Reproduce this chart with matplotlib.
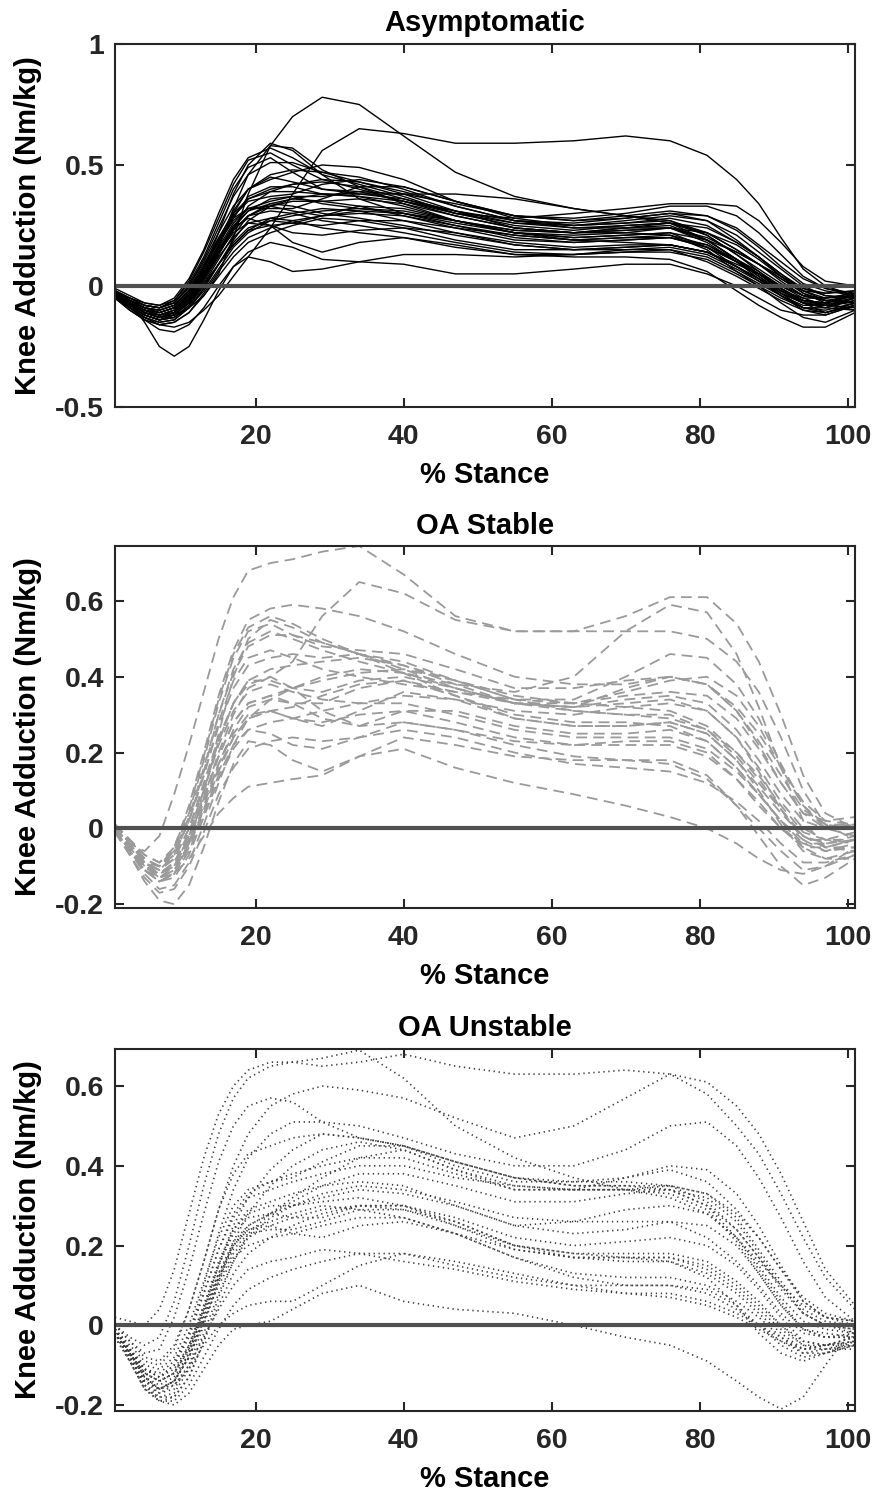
import numpy as np
import matplotlib
matplotlib.use("Agg")
import matplotlib.pyplot as plt

plt.rcParams['font.family'] = ['Liberation Sans', 'DejaVu Sans']
plt.rcParams['font.weight'] = 'bold'

# % stance sample points shared by every curve
stance = [1, 3, 5, 7, 9, 11, 13, 15, 17, 19, 22, 25, 29, 34, 40, 47, 55, 63, 70, 76, 81, 85, 88, 91, 94, 97, 101]

# Asymptomatic knee adduction moments (Nm/kg)
asym_curves = [
    [-0.03, -0.07, -0.10, -0.12, -0.11, -0.05, 0.05, 0.17, 0.30, 0.40, 0.45, 0.43, 0.40, 0.39, 0.35, 0.30, 0.26, 0.25, 0.26, 0.27, 0.22, 0.15, 0.09, 0.02, -0.04, -0.06, -0.04],
    [-0.02, -0.05, -0.08, -0.09, -0.06, 0.02, 0.14, 0.28, 0.42, 0.52, 0.55, 0.50, 0.44, 0.40, 0.35, 0.29, 0.24, 0.22, 0.24, 0.25, 0.19, 0.11, 0.05, -0.02, -0.07, -0.09, -0.06],
    [-0.04, -0.08, -0.11, -0.13, -0.12, -0.07, 0.03, 0.16, 0.32, 0.46, 0.58, 0.57, 0.48, 0.41, 0.34, 0.27, 0.22, 0.20, 0.21, 0.22, 0.16, 0.08, 0.02, -0.04, -0.09, -0.10, -0.07],
    [-0.03, -0.07, -0.10, -0.12, -0.10, -0.04, 0.07, 0.22, 0.38, 0.50, 0.59, 0.56, 0.46, 0.36, 0.30, 0.25, 0.21, 0.19, 0.20, 0.21, 0.17, 0.10, 0.04, -0.02, -0.06, -0.08, -0.05],
    [-0.05, -0.09, -0.13, -0.15, -0.14, -0.09, -0.01, 0.09, 0.19, 0.27, 0.33, 0.35, 0.35, 0.36, 0.34, 0.29, 0.24, 0.22, 0.23, 0.24, 0.20, 0.14, 0.09, 0.03, -0.03, -0.06, -0.07],
    [-0.02, -0.06, -0.09, -0.11, -0.09, -0.03, 0.07, 0.18, 0.27, 0.32, 0.33, 0.31, 0.29, 0.30, 0.29, 0.25, 0.20, 0.18, 0.19, 0.20, 0.16, 0.10, 0.05, -0.01, -0.06, -0.07, -0.03],
    [-0.03, -0.07, -0.10, -0.11, -0.09, -0.03, 0.06, 0.17, 0.28, 0.37, 0.41, 0.41, 0.38, 0.37, 0.35, 0.31, 0.27, 0.25, 0.26, 0.28, 0.25, 0.18, 0.12, 0.05, -0.01, -0.03, -0.02],
    [-0.04, -0.08, -0.12, -0.14, -0.13, -0.08, 0.00, 0.09, 0.18, 0.24, 0.27, 0.26, 0.25, 0.27, 0.27, 0.24, 0.21, 0.19, 0.20, 0.20, 0.16, 0.10, 0.05, -0.01, -0.06, -0.07, -0.04],
    [-0.03, -0.06, -0.09, -0.10, -0.08, -0.02, 0.08, 0.19, 0.29, 0.35, 0.37, 0.38, 0.42, 0.44, 0.41, 0.35, 0.29, 0.27, 0.28, 0.30, 0.27, 0.19, 0.12, 0.04, -0.02, -0.05, -0.03],
    [-0.02, -0.05, -0.08, -0.09, -0.07, 0.00, 0.10, 0.22, 0.33, 0.40, 0.44, 0.47, 0.50, 0.49, 0.44, 0.35, 0.28, 0.25, 0.27, 0.29, 0.27, 0.21, 0.14, 0.07, 0.00, -0.04, -0.05],
    [-0.03, -0.07, -0.11, -0.13, -0.12, -0.07, 0.01, 0.09, 0.17, 0.23, 0.28, 0.30, 0.32, 0.31, 0.27, 0.22, 0.17, 0.15, 0.15, 0.16, 0.13, 0.07, 0.02, -0.03, -0.07, -0.08, -0.06],
    [-0.05, -0.10, -0.14, -0.16, -0.15, -0.11, -0.03, 0.06, 0.14, 0.20, 0.24, 0.27, 0.29, 0.31, 0.30, 0.27, 0.22, 0.19, 0.18, 0.17, 0.14, 0.09, 0.05, 0.00, -0.04, -0.06, -0.07],
    [-0.03, -0.07, -0.10, -0.12, -0.10, -0.04, 0.05, 0.15, 0.25, 0.31, 0.34, 0.33, 0.30, 0.28, 0.25, 0.21, 0.17, 0.15, 0.16, 0.17, 0.14, 0.08, 0.03, -0.03, -0.07, -0.07, -0.05],
    [-0.02, -0.06, -0.09, -0.11, -0.09, -0.03, 0.06, 0.16, 0.26, 0.32, 0.35, 0.37, 0.37, 0.39, 0.38, 0.34, 0.29, 0.27, 0.29, 0.31, 0.29, 0.23, 0.16, 0.08, 0.01, -0.02, -0.04],
    [-0.04, -0.08, -0.12, -0.14, -0.12, -0.06, 0.03, 0.13, 0.23, 0.29, 0.31, 0.30, 0.27, 0.25, 0.22, 0.18, 0.14, 0.13, 0.14, 0.14, 0.11, 0.05, 0.00, -0.05, -0.09, -0.09, -0.05],
    [-0.03, -0.07, -0.11, -0.13, -0.11, -0.05, 0.04, 0.14, 0.22, 0.26, 0.25, 0.22, 0.21, 0.23, 0.24, 0.22, 0.18, 0.16, 0.17, 0.17, 0.14, 0.08, 0.03, -0.02, -0.05, -0.05, -0.03],
    [-0.04, -0.09, -0.14, -0.18, -0.19, -0.16, -0.09, 0.00, 0.08, 0.14, 0.18, 0.16, 0.11, 0.10, 0.13, 0.13, 0.12, 0.13, 0.15, 0.15, 0.10, 0.04, -0.01, -0.06, -0.10, -0.11, -0.08],
    [-0.03, -0.07, -0.11, -0.13, -0.12, -0.09, -0.04, 0.05, 0.20, 0.38, 0.58, 0.70, 0.78, 0.75, 0.62, 0.47, 0.37, 0.32, 0.29, 0.26, 0.19, 0.11, 0.05, -0.01, -0.07, -0.11, -0.08],
    [-0.05, -0.09, -0.13, -0.16, -0.17, -0.15, -0.10, -0.04, 0.04, 0.12, 0.24, 0.38, 0.56, 0.65, 0.63, 0.59, 0.59, 0.60, 0.62, 0.60, 0.54, 0.44, 0.34, 0.20, 0.07, 0.00, -0.04],
    [-0.02, -0.07, -0.15, -0.25, -0.29, -0.25, -0.14, -0.02, 0.08, 0.12, 0.10, 0.06, 0.07, 0.10, 0.09, 0.05, 0.05, 0.07, 0.09, 0.09, 0.05, 0.00, -0.05, -0.10, -0.12, -0.12, -0.08],
    [-0.02, -0.05, -0.07, -0.08, -0.05, 0.03, 0.15, 0.30, 0.44, 0.53, 0.57, 0.53, 0.46, 0.42, 0.37, 0.30, 0.25, 0.23, 0.25, 0.26, 0.21, 0.13, 0.06, -0.01, -0.06, -0.07, -0.04],
    [-0.03, -0.07, -0.10, -0.11, -0.09, -0.03, 0.07, 0.19, 0.31, 0.40, 0.46, 0.48, 0.47, 0.45, 0.40, 0.33, 0.27, 0.26, 0.28, 0.30, 0.29, 0.24, 0.17, 0.10, 0.03, -0.01, -0.03],
    [-0.04, -0.09, -0.12, -0.14, -0.13, -0.08, 0.01, 0.11, 0.21, 0.29, 0.34, 0.36, 0.35, 0.33, 0.29, 0.24, 0.19, 0.18, 0.19, 0.20, 0.17, 0.11, 0.06, 0.00, -0.05, -0.08, -0.09],
    [-0.02, -0.06, -0.09, -0.10, -0.08, -0.02, 0.08, 0.19, 0.28, 0.32, 0.32, 0.32, 0.36, 0.41, 0.41, 0.35, 0.29, 0.28, 0.30, 0.33, 0.33, 0.29, 0.22, 0.13, 0.04, -0.01, -0.04],
    [-0.03, -0.07, -0.11, -0.12, -0.10, -0.04, 0.05, 0.15, 0.23, 0.29, 0.33, 0.36, 0.38, 0.37, 0.33, 0.27, 0.23, 0.22, 0.22, 0.21, 0.15, 0.06, 0.00, -0.07, -0.13, -0.15, -0.10],
    [-0.04, -0.08, -0.12, -0.14, -0.12, -0.07, 0.02, 0.12, 0.20, 0.26, 0.28, 0.27, 0.24, 0.22, 0.20, 0.16, 0.13, 0.12, 0.12, 0.11, 0.06, -0.02, -0.08, -0.13, -0.17, -0.17, -0.11],
    [-0.02, -0.06, -0.09, -0.10, -0.08, -0.02, 0.08, 0.19, 0.29, 0.36, 0.40, 0.42, 0.43, 0.41, 0.36, 0.30, 0.28, 0.30, 0.32, 0.34, 0.34, 0.33, 0.27, 0.18, 0.08, 0.02, 0.00],
    [-0.03, -0.06, -0.08, -0.09, -0.07, -0.01, 0.09, 0.20, 0.30, 0.36, 0.39, 0.39, 0.38, 0.38, 0.38, 0.38, 0.36, 0.32, 0.29, 0.27, 0.21, 0.13, 0.07, 0.01, -0.04, -0.05, -0.04],
    [-0.05, -0.10, -0.14, -0.16, -0.15, -0.11, -0.04, 0.04, 0.12, 0.18, 0.22, 0.25, 0.28, 0.27, 0.24, 0.19, 0.15, 0.15, 0.16, 0.17, 0.14, 0.08, 0.03, -0.02, -0.07, -0.09, -0.10],
    [-0.03, -0.07, -0.11, -0.13, -0.11, -0.05, 0.05, 0.15, 0.24, 0.28, 0.25, 0.18, 0.14, 0.18, 0.20, 0.17, 0.13, 0.13, 0.14, 0.15, 0.12, 0.06, 0.01, -0.04, -0.08, -0.08, -0.05],
    [-0.02, -0.05, -0.08, -0.09, -0.07, 0.00, 0.11, 0.24, 0.37, 0.46, 0.51, 0.51, 0.47, 0.43, 0.38, 0.31, 0.24, 0.22, 0.23, 0.24, 0.19, 0.11, 0.04, -0.03, -0.09, -0.11, -0.07],
    [-0.04, -0.09, -0.13, -0.15, -0.14, -0.09, -0.01, 0.09, 0.17, 0.23, 0.25, 0.26, 0.29, 0.33, 0.32, 0.27, 0.22, 0.21, 0.22, 0.24, 0.22, 0.17, 0.11, 0.04, -0.03, -0.07, -0.10],
    [-0.01, -0.04, -0.07, -0.08, -0.06, 0.01, 0.12, 0.26, 0.40, 0.49, 0.53, 0.47, 0.40, 0.38, 0.36, 0.31, 0.26, 0.24, 0.25, 0.26, 0.22, 0.15, 0.09, 0.03, -0.02, -0.03, -0.02],
    [-0.03, -0.08, -0.12, -0.14, -0.13, -0.09, -0.02, 0.07, 0.16, 0.22, 0.27, 0.29, 0.31, 0.32, 0.31, 0.27, 0.23, 0.22, 0.24, 0.26, 0.24, 0.18, 0.12, 0.05, -0.02, -0.06, -0.08],
    [-0.02, -0.06, -0.10, -0.12, -0.11, -0.06, 0.03, 0.13, 0.24, 0.33, 0.39, 0.42, 0.44, 0.43, 0.39, 0.33, 0.27, 0.24, 0.24, 0.24, 0.18, 0.10, 0.03, -0.04, -0.10, -0.12, -0.08],
    [-0.04, -0.08, -0.11, -0.13, -0.11, -0.05, 0.04, 0.14, 0.24, 0.31, 0.36, 0.37, 0.34, 0.32, 0.30, 0.26, 0.22, 0.20, 0.21, 0.22, 0.19, 0.14, 0.09, 0.04, -0.01, -0.04, -0.05],
]

# OA stable knee adduction moments (Nm/kg)
stable_curves = [
    [0.00, -0.04, -0.06, -0.02, 0.09, 0.22, 0.36, 0.50, 0.61, 0.68, 0.70, 0.71, 0.73, 0.745, 0.67, 0.56, 0.52, 0.52, 0.56, 0.61, 0.61, 0.54, 0.44, 0.30, 0.14, 0.04, 0.00],
    [0.01, -0.04, -0.09, -0.12, -0.10, -0.03, 0.08, 0.20, 0.30, 0.37, 0.40, 0.44, 0.56, 0.65, 0.62, 0.55, 0.52, 0.52, 0.52, 0.52, 0.50, 0.44, 0.36, 0.24, 0.10, 0.01, -0.03],
    [0.00, -0.05, -0.09, -0.10, -0.05, 0.06, 0.20, 0.35, 0.47, 0.55, 0.58, 0.59, 0.58, 0.56, 0.52, 0.46, 0.40, 0.38, 0.38, 0.40, 0.38, 0.32, 0.25, 0.16, 0.07, 0.02, 0.01],
    [0.01, -0.04, -0.09, -0.11, -0.07, 0.02, 0.15, 0.30, 0.42, 0.49, 0.52, 0.50, 0.47, 0.44, 0.41, 0.38, 0.36, 0.40, 0.52, 0.59, 0.57, 0.46, 0.32, 0.16, 0.02, -0.05, -0.03],
    [0.00, -0.06, -0.11, -0.14, -0.12, -0.04, 0.09, 0.25, 0.40, 0.50, 0.55, 0.53, 0.49, 0.46, 0.43, 0.39, 0.35, 0.33, 0.32, 0.31, 0.27, 0.20, 0.13, 0.05, -0.02, -0.05, -0.05],
    [0.01, -0.03, -0.08, -0.10, -0.06, 0.04, 0.18, 0.33, 0.45, 0.52, 0.54, 0.51, 0.48, 0.47, 0.46, 0.42, 0.37, 0.37, 0.39, 0.40, 0.38, 0.31, 0.22, 0.12, 0.04, 0.00, 0.00],
    [-0.01, -0.06, -0.12, -0.16, -0.15, -0.09, 0.01, 0.12, 0.22, 0.29, 0.34, 0.37, 0.39, 0.41, 0.42, 0.39, 0.34, 0.31, 0.30, 0.30, 0.26, 0.19, 0.12, 0.05, -0.02, -0.05, -0.06],
    [0.00, -0.05, -0.10, -0.13, -0.10, -0.02, 0.10, 0.23, 0.33, 0.39, 0.39, 0.37, 0.36, 0.39, 0.40, 0.37, 0.33, 0.31, 0.30, 0.29, 0.26, 0.20, 0.14, 0.06, -0.01, -0.03, -0.03],
    [-0.01, -0.07, -0.14, -0.19, -0.20, -0.15, -0.05, 0.07, 0.17, 0.23, 0.22, 0.18, 0.15, 0.19, 0.24, 0.22, 0.19, 0.18, 0.18, 0.17, 0.13, 0.06, 0.00, -0.06, -0.11, -0.10, -0.05],
    [0.00, -0.05, -0.10, -0.13, -0.12, -0.08, -0.02, 0.04, 0.08, 0.11, 0.12, 0.13, 0.14, 0.19, 0.21, 0.16, 0.12, 0.09, 0.06, 0.03, 0.00, -0.04, -0.08, -0.11, -0.12, -0.10, -0.07],
    [0.01, -0.03, -0.07, -0.09, -0.06, 0.03, 0.16, 0.30, 0.41, 0.48, 0.51, 0.51, 0.49, 0.46, 0.42, 0.37, 0.33, 0.32, 0.34, 0.35, 0.33, 0.26, 0.18, 0.09, 0.02, 0.00, 0.01],
    [0.00, -0.05, -0.10, -0.12, -0.09, -0.01, 0.10, 0.22, 0.31, 0.36, 0.38, 0.36, 0.34, 0.33, 0.35, 0.34, 0.31, 0.30, 0.32, 0.33, 0.31, 0.24, 0.16, 0.07, 0.00, -0.03, -0.04],
    [-0.01, -0.06, -0.11, -0.14, -0.13, -0.07, 0.03, 0.13, 0.21, 0.26, 0.28, 0.29, 0.31, 0.33, 0.33, 0.30, 0.26, 0.24, 0.24, 0.24, 0.21, 0.15, 0.09, 0.02, -0.05, -0.08, -0.08],
    [0.00, -0.05, -0.10, -0.12, -0.10, -0.03, 0.07, 0.17, 0.25, 0.30, 0.31, 0.29, 0.28, 0.30, 0.31, 0.28, 0.24, 0.22, 0.22, 0.22, 0.19, 0.13, 0.07, 0.00, -0.05, -0.05, -0.03],
    [0.01, -0.03, -0.07, -0.09, -0.05, 0.05, 0.19, 0.34, 0.46, 0.53, 0.56, 0.54, 0.50, 0.46, 0.41, 0.35, 0.30, 0.28, 0.28, 0.27, 0.23, 0.16, 0.09, 0.02, -0.03, -0.03, -0.01],
    [0.00, -0.04, -0.09, -0.11, -0.08, 0.00, 0.11, 0.23, 0.33, 0.39, 0.42, 0.43, 0.44, 0.45, 0.43, 0.38, 0.33, 0.32, 0.37, 0.40, 0.38, 0.31, 0.23, 0.14, 0.05, 0.01, 0.01],
    [-0.01, -0.06, -0.11, -0.14, -0.12, -0.05, 0.05, 0.16, 0.24, 0.29, 0.31, 0.29, 0.27, 0.31, 0.36, 0.34, 0.29, 0.27, 0.27, 0.28, 0.25, 0.18, 0.10, 0.01, -0.06, -0.08, -0.06],
    [0.00, -0.05, -0.10, -0.12, -0.09, -0.02, 0.08, 0.19, 0.28, 0.33, 0.35, 0.37, 0.40, 0.42, 0.41, 0.37, 0.33, 0.32, 0.33, 0.34, 0.31, 0.24, 0.15, 0.05, -0.03, -0.06, -0.05],
    [0.01, -0.04, -0.08, -0.10, -0.07, 0.02, 0.14, 0.27, 0.37, 0.43, 0.45, 0.46, 0.45, 0.46, 0.44, 0.39, 0.34, 0.34, 0.40, 0.46, 0.45, 0.38, 0.29, 0.17, 0.06, 0.00, -0.02],
    [-0.01, -0.07, -0.13, -0.17, -0.16, -0.10, -0.01, 0.09, 0.16, 0.21, 0.23, 0.24, 0.23, 0.24, 0.26, 0.24, 0.20, 0.17, 0.16, 0.15, 0.12, 0.07, 0.02, -0.04, -0.09, -0.09, -0.07],
    [0.00, -0.05, -0.11, -0.14, -0.12, -0.06, 0.04, 0.14, 0.22, 0.26, 0.25, 0.22, 0.21, 0.24, 0.28, 0.26, 0.22, 0.19, 0.18, 0.18, 0.14, 0.06, -0.02, -0.10, -0.15, -0.13, -0.08],
    [0.01, -0.04, -0.08, -0.10, -0.07, 0.02, 0.14, 0.28, 0.39, 0.45, 0.47, 0.45, 0.42, 0.40, 0.38, 0.36, 0.34, 0.33, 0.35, 0.36, 0.35, 0.29, 0.21, 0.12, 0.04, 0.02, 0.03],
    [0.00, -0.06, -0.11, -0.13, -0.11, -0.04, 0.05, 0.15, 0.24, 0.29, 0.31, 0.32, 0.35, 0.38, 0.39, 0.35, 0.29, 0.27, 0.27, 0.28, 0.25, 0.18, 0.11, 0.04, -0.02, -0.04, -0.03],
    [0.00, -0.04, -0.09, -0.11, -0.08, 0.00, 0.12, 0.24, 0.33, 0.38, 0.40, 0.37, 0.31, 0.27, 0.28, 0.26, 0.23, 0.22, 0.23, 0.23, 0.20, 0.13, 0.06, 0.00, -0.04, -0.04, -0.02],
    [-0.01, -0.05, -0.10, -0.13, -0.11, -0.04, 0.06, 0.17, 0.26, 0.32, 0.34, 0.33, 0.33, 0.37, 0.39, 0.36, 0.33, 0.33, 0.36, 0.39, 0.40, 0.35, 0.27, 0.16, 0.06, 0.01, 0.00],
    [0.00, -0.05, -0.10, -0.12, -0.09, -0.02, 0.08, 0.19, 0.28, 0.33, 0.35, 0.33, 0.29, 0.27, 0.31, 0.31, 0.27, 0.25, 0.25, 0.26, 0.23, 0.16, 0.09, 0.02, -0.04, -0.06, -0.04],
]

# OA unstable knee adduction moments (Nm/kg)
unstable_curves = [
    [0.02, 0.01, 0.00, 0.04, 0.14, 0.28, 0.42, 0.53, 0.60, 0.64, 0.66, 0.66, 0.67, 0.69, 0.62, 0.50, 0.42, 0.37, 0.34, 0.32, 0.28, 0.22, 0.16, 0.10, 0.05, 0.02, 0.01],
    [0.00, -0.03, -0.05, -0.03, 0.06, 0.20, 0.35, 0.48, 0.57, 0.62, 0.65, 0.66, 0.65, 0.66, 0.68, 0.65, 0.63, 0.63, 0.64, 0.63, 0.58, 0.50, 0.43, 0.33, 0.22, 0.12, 0.04],
    [-0.01, -0.05, -0.09, -0.10, -0.06, 0.04, 0.16, 0.29, 0.40, 0.48, 0.55, 0.58, 0.60, 0.59, 0.57, 0.52, 0.47, 0.50, 0.57, 0.63, 0.61, 0.55, 0.48, 0.38, 0.26, 0.14, 0.05],
    [0.00, -0.04, -0.07, -0.06, 0.02, 0.14, 0.28, 0.41, 0.50, 0.55, 0.57, 0.56, 0.51, 0.47, 0.45, 0.41, 0.37, 0.35, 0.35, 0.34, 0.30, 0.24, 0.17, 0.10, 0.03, 0.00, -0.02],
    [-0.01, -0.06, -0.11, -0.13, -0.10, -0.02, 0.10, 0.23, 0.34, 0.42, 0.48, 0.51, 0.51, 0.50, 0.47, 0.43, 0.40, 0.40, 0.44, 0.50, 0.51, 0.45, 0.37, 0.27, 0.16, 0.07, 0.01],
    [-0.01, -0.07, -0.13, -0.16, -0.14, -0.07, 0.04, 0.15, 0.25, 0.32, 0.39, 0.44, 0.48, 0.47, 0.45, 0.40, 0.36, 0.36, 0.36, 0.35, 0.31, 0.24, 0.17, 0.09, 0.03, 0.00, -0.01],
    [-0.02, -0.08, -0.14, -0.17, -0.16, -0.10, 0.00, 0.11, 0.21, 0.28, 0.35, 0.40, 0.44, 0.46, 0.44, 0.39, 0.35, 0.34, 0.34, 0.34, 0.30, 0.22, 0.14, 0.06, -0.01, -0.03, -0.03],
    [-0.01, -0.06, -0.11, -0.13, -0.10, -0.03, 0.08, 0.19, 0.28, 0.33, 0.36, 0.38, 0.40, 0.42, 0.42, 0.38, 0.34, 0.34, 0.37, 0.40, 0.39, 0.33, 0.25, 0.15, 0.06, 0.02, 0.00],
    [-0.02, -0.08, -0.15, -0.18, -0.18, -0.13, -0.04, 0.07, 0.16, 0.23, 0.28, 0.31, 0.35, 0.38, 0.38, 0.35, 0.31, 0.31, 0.33, 0.34, 0.32, 0.26, 0.18, 0.10, 0.03, 0.00, -0.01],
    [-0.01, -0.07, -0.13, -0.15, -0.13, -0.07, 0.03, 0.13, 0.21, 0.25, 0.28, 0.30, 0.33, 0.35, 0.34, 0.31, 0.27, 0.26, 0.26, 0.26, 0.22, 0.16, 0.10, 0.03, -0.02, -0.03, -0.03],
    [-0.02, -0.08, -0.14, -0.16, -0.14, -0.08, 0.01, 0.11, 0.18, 0.22, 0.25, 0.27, 0.29, 0.30, 0.30, 0.27, 0.22, 0.20, 0.21, 0.22, 0.20, 0.15, 0.09, 0.02, -0.04, -0.05, -0.05],
    [-0.01, -0.06, -0.12, -0.14, -0.12, -0.05, 0.05, 0.16, 0.24, 0.28, 0.30, 0.30, 0.31, 0.32, 0.30, 0.25, 0.19, 0.17, 0.16, 0.16, 0.13, 0.08, 0.03, -0.02, -0.06, -0.06, -0.05],
    [-0.03, -0.09, -0.16, -0.19, -0.18, -0.13, -0.04, 0.05, 0.13, 0.18, 0.22, 0.25, 0.28, 0.30, 0.29, 0.26, 0.20, 0.17, 0.17, 0.17, 0.15, 0.10, 0.05, 0.00, -0.05, -0.05, -0.04],
    [-0.02, -0.07, -0.13, -0.16, -0.14, -0.08, 0.01, 0.10, 0.17, 0.20, 0.22, 0.23, 0.25, 0.27, 0.27, 0.23, 0.17, 0.13, 0.12, 0.12, 0.10, 0.06, 0.02, -0.03, -0.07, -0.07, -0.05],
    [-0.01, -0.06, -0.11, -0.13, -0.11, -0.05, 0.04, 0.13, 0.20, 0.24, 0.25, 0.23, 0.22, 0.25, 0.26, 0.23, 0.17, 0.12, 0.10, 0.10, 0.09, 0.05, 0.00, -0.05, -0.08, -0.07, -0.05],
    [-0.02, -0.08, -0.15, -0.17, -0.15, -0.10, -0.03, 0.04, 0.10, 0.14, 0.16, 0.17, 0.19, 0.18, 0.16, 0.14, 0.11, 0.09, 0.08, 0.08, 0.06, 0.03, 0.00, -0.04, -0.07, -0.06, -0.04],
    [-0.03, -0.09, -0.16, -0.19, -0.19, -0.15, -0.08, -0.01, 0.05, 0.09, 0.12, 0.14, 0.16, 0.18, 0.18, 0.15, 0.12, 0.10, 0.10, 0.10, 0.08, 0.04, 0.00, -0.03, -0.06, -0.05, -0.03],
    [-0.02, -0.08, -0.15, -0.19, -0.20, -0.17, -0.11, -0.05, -0.01, 0.00, 0.01, 0.04, 0.08, 0.10, 0.06, 0.04, 0.03, 0.00, -0.03, -0.05, -0.09, -0.14, -0.18, -0.21, -0.18, -0.10, 0.00],
    [-0.01, -0.06, -0.11, -0.12, -0.09, -0.02, 0.08, 0.19, 0.27, 0.32, 0.34, 0.36, 0.38, 0.40, 0.40, 0.37, 0.35, 0.34, 0.34, 0.35, 0.33, 0.28, 0.22, 0.14, 0.06, 0.02, 0.01],
    [-0.02, -0.08, -0.14, -0.16, -0.14, -0.08, 0.02, 0.12, 0.20, 0.25, 0.28, 0.32, 0.37, 0.42, 0.44, 0.39, 0.34, 0.34, 0.34, 0.33, 0.29, 0.21, 0.13, 0.05, -0.01, -0.02, -0.03],
    [-0.01, -0.07, -0.12, -0.14, -0.12, -0.05, 0.05, 0.15, 0.23, 0.27, 0.28, 0.27, 0.27, 0.30, 0.30, 0.26, 0.20, 0.18, 0.18, 0.18, 0.16, 0.11, 0.06, 0.00, -0.04, -0.05, -0.04],
    [-0.02, -0.09, -0.16, -0.18, -0.17, -0.11, -0.02, 0.08, 0.16, 0.22, 0.27, 0.30, 0.32, 0.34, 0.33, 0.30, 0.25, 0.23, 0.24, 0.26, 0.25, 0.20, 0.13, 0.05, -0.01, -0.03, -0.02],
    [0.00, -0.04, -0.08, -0.09, -0.05, 0.04, 0.16, 0.29, 0.38, 0.43, 0.45, 0.47, 0.48, 0.47, 0.45, 0.41, 0.37, 0.36, 0.37, 0.39, 0.36, 0.29, 0.22, 0.14, 0.07, 0.03, 0.01],
    [-0.02, -0.08, -0.14, -0.16, -0.14, -0.08, 0.02, 0.12, 0.20, 0.24, 0.26, 0.28, 0.30, 0.29, 0.27, 0.23, 0.19, 0.17, 0.17, 0.17, 0.14, 0.09, 0.04, -0.01, -0.05, -0.06, -0.06],
    [-0.01, -0.07, -0.12, -0.14, -0.12, -0.06, 0.04, 0.15, 0.24, 0.29, 0.31, 0.33, 0.35, 0.36, 0.35, 0.30, 0.25, 0.26, 0.29, 0.30, 0.28, 0.22, 0.15, 0.07, 0.01, -0.01, -0.02],
    [-0.02, -0.07, -0.13, -0.16, -0.15, -0.11, -0.05, 0.00, 0.03, 0.05, 0.06, 0.06, 0.10, 0.15, 0.18, 0.16, 0.13, 0.10, 0.08, 0.07, 0.05, 0.02, -0.01, -0.04, -0.06, -0.05, -0.03],
    [-0.01, -0.06, -0.10, -0.11, -0.08, 0.00, 0.11, 0.22, 0.30, 0.34, 0.36, 0.37, 0.41, 0.45, 0.45, 0.41, 0.37, 0.35, 0.35, 0.35, 0.33, 0.27, 0.19, 0.11, 0.04, 0.01, 0.00],
    [-0.02, -0.07, -0.12, -0.14, -0.12, -0.06, 0.03, 0.12, 0.19, 0.23, 0.24, 0.24, 0.26, 0.29, 0.29, 0.25, 0.20, 0.18, 0.17, 0.16, 0.12, 0.05, -0.02, -0.07, -0.09, -0.07, -0.04],
]

titles = ['Asymptomatic', 'OA Stable', 'OA Unstable']
ylims = [(-0.5, 1.0), (-0.21, 0.745), (-0.215, 0.693)]
yticks = [[-0.5, 0, 0.5, 1], [-0.2, 0, 0.2, 0.4, 0.6], [-0.2, 0, 0.2, 0.4, 0.6]]
xticks = [20, 40, 60, 80, 100]

fig = plt.figure(figsize=(8.74, 14.98), dpi=100)
tops = [44, 546, 1049]
bottoms = [407, 908, 1411]
axes = []
for t, b in zip(tops, bottoms):
    axes.append(fig.add_axes([115 / 874, 1 - b / 1498, 740 / 874, (b - t) / 1498]))

styles = [
    dict(color='black', lw=1.0, ls='-'),
    dict(color='#9a9a9a', lw=1.3, ls=(0, (6, 3.5))),
    dict(color='#3c3c3c', lw=1.2, ls=(0, (0.8, 2.2))),
]
groups = [asym_curves, stable_curves, unstable_curves]

for ax, curves, st, title, yl, yt in zip(axes, groups, styles, titles, ylims, yticks):
    for c in curves:
        ax.plot(stance, c, **st)
    ax.axhline(0, color='#505050', lw=3.0, zorder=5)
    ax.set_xlim(1, 101)
    ax.set_ylim(*yl)
    ax.set_xticks(xticks)
    ax.set_yticks(yt)
    ax.set_yticklabels([f'{v:g}' for v in yt])
    ax.tick_params(direction='in', length=6.5, width=1.5, top=True, right=True,
                   labelsize=20.5, colors='#262626', labelcolor='#262626')
    ax.tick_params(axis='x', pad=12)
    ax.tick_params(axis='y', pad=8)
    for lab in ax.get_xticklabels() + ax.get_yticklabels():
        lab.set_fontweight('bold')
    for sp in ax.spines.values():
        sp.set_linewidth(1.5)
        sp.set_color('#262626')
        sp.set_zorder(6)
    ax.set_title(title, fontsize=21, fontweight='bold', pad=9)
    ax.set_xlabel('% Stance', fontsize=21, fontweight='bold', labelpad=8)
    ax.set_ylabel('Knee Adduction (Nm/kg)', fontsize=21, fontweight='bold', labelpad=9)

fig.savefig('out.png', dpi=100)
